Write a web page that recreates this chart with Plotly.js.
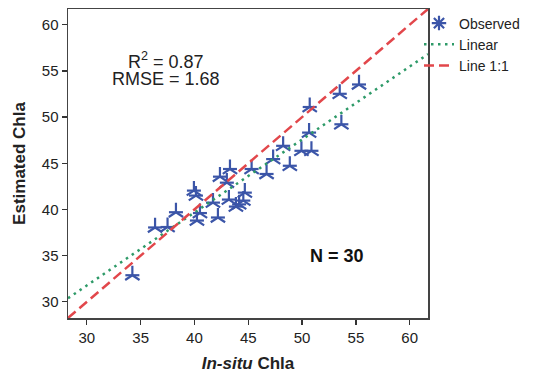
<!DOCTYPE html>
<html>
<head>
<meta charset="utf-8">
<script src="https://cdn.plot.ly/plotly-3.0.1.min.js"></script>
<style>html,body{margin:0;padding:0;background:#fff;}#chart{width:540px;height:376px;}</style>
</head>
<body>
<div id="chart"></div>
<script>
// Observed data (In-situ vs Estimated Chla)
const insitu = [34.23, 36.34, 37.50, 38.28, 39.95, 40.14, 40.51, 40.23, 41.72, 42.18,
                42.37, 43.30, 43.01, 43.20, 43.85, 44.68, 44.54, 45.31, 46.70, 47.31,
                48.24, 48.86, 49.94, 50.87, 50.65, 50.71, 53.65, 53.50, 55.29, 44.15];
const estimated = [32.88, 38.05, 38.10, 39.70, 42.04, 41.50, 39.61, 38.80, 40.74, 39.13,
                   43.55, 44.38, 42.90, 41.07, 40.31, 41.82, 40.96, 44.38, 43.84, 45.45,
                   46.89, 44.73, 46.35, 46.35, 48.32, 51.09, 49.22, 52.52, 53.53, 40.55];
// Linear fit coefficients [slope, intercept]
const fitCoef = [0.79, 8.07];
// Axis extents
const axisRange = [28.25, 61.7];
const tickVals = [30, 35, 40, 45, 50, 55, 60];
const statsText = ["R<sup>2</sup> = 0.87", "RMSE = 1.68"];
const nText = "N = 30";

const lineX = axisRange.slice();
const oneToOneY = lineX.slice();
const fitY = lineX.map(v => fitCoef[0] * v + fitCoef[1]);

const blue = '#3B55A8';
const font = 'Liberation Sans, Arial, sans-serif';
const traces = [
  {x: insitu, y: estimated, type: 'scatter', mode: 'markers', name: 'Observed',
   legendgroup: 'a', showlegend: false, hoverinfo: 'skip',
   marker: {symbol: 'line-ew-open', size: 10, color: blue, line: {color: blue, width: 2.2}}},
  {x: insitu, y: estimated, type: 'scatter', mode: 'markers', name: 'Observed',
   legendgroup: 'a', showlegend: false, hoverinfo: 'skip',
   marker: {symbol: 'y-up-open', size: 12, color: blue, line: {color: blue, width: 2.2}}},
  {x: [null], y: [null], type: 'scatter', mode: 'markers', name: 'Observed',
   legendgroup: 'a',
   marker: {symbol: 'asterisk-open', size: 12, color: blue, line: {color: blue, width: 2.2}}},
  {x: lineX, y: fitY, type: 'scatter', mode: 'lines', name: 'Linear', legendgroup: 'b',
   line: {color: '#2E9A68', width: 2.5, dash: '2.5px,4.5px'}},
  {x: lineX, y: oneToOneY, type: 'scatter', mode: 'lines', name: 'Line 1:1', legendgroup: 'c',
   line: {color: '#E2474B', width: 2.5, dash: '10px,5px'}}
];

const axisCommon = {
  range: axisRange, tickvals: tickVals, ticks: 'outside', ticklen: 5, tickwidth: 1.3,
  tickcolor: '#333', showline: true, linecolor: '#444', linewidth: 1.5, mirror: true,
  showgrid: false, zeroline: false,
  tickfont: {family: font, size: 15, color: '#222'}
};

const layout = {
  width: 540, height: 376,
  margin: {l: 68, r: 112, t: 7, b: 58},
  paper_bgcolor: '#fff', plot_bgcolor: '#fff',
  showlegend: true,
  legend: {x: 0.975, xanchor: 'left', y: 1.005, yanchor: 'top',
           traceorder: 'grouped', tracegroupgap: 0,
           font: {family: font, size: 14, color: '#222'},
           bgcolor: 'rgba(0,0,0,0)'},
  xaxis: Object.assign({}, axisCommon, {
    title: {text: '<b><i>In-situ</i> Chla</b>', standoff: 12,
            font: {family: font, size: 17, color: '#222'}}
  }),
  yaxis: Object.assign({}, axisCommon, {
    title: {text: '<b>Estimated Chla</b>', standoff: 12,
            font: {family: font, size: 17, color: '#222'}}
  }),
  annotations: [
    {text: statsText[0], x: 37.4, y: 56.15, xref: 'x', yref: 'y', showarrow: false,
     font: {family: font, size: 18, color: '#222'}},
    {text: statsText[1], x: 37.4, y: 54.1, xref: 'x', yref: 'y', showarrow: false,
     font: {family: font, size: 18, color: '#222'}},
    {text: '<b>' + nText + '</b>', x: 53.2, y: 35.0, xref: 'x', yref: 'y', showarrow: false,
     font: {family: font, size: 18, color: '#111'}}
  ]
};

Plotly.newPlot('chart', traces, layout, {staticPlot: true, displayModeBar: false});
</script>
</body>
</html>
